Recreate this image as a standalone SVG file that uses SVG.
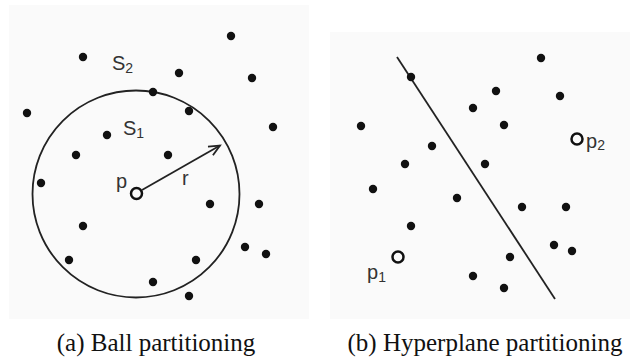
<svg xmlns="http://www.w3.org/2000/svg" width="635" height="362" viewBox="0 0 635 362">
<defs>
<style>
.panel{fill:#fafafa;stroke:none}
.dot{fill:#111}
.pt{fill:none;stroke:#111;stroke-width:2.5}
.ln{fill:none;stroke:#222;stroke-width:1.8}
.lbl{font-family:"Liberation Sans",Arial,sans-serif;font-size:20px;fill:#333}
.sub{font-size:14px}
.cap{font-family:"Liberation Serif","Times New Roman",serif;font-size:25px;fill:#111;text-anchor:middle}
</style>
<marker id="arr" markerWidth="14" markerHeight="12" refX="12" refY="6" orient="auto" markerUnits="userSpaceOnUse">
<path d="M1,1 L12,6 L1,11" fill="none" stroke="#222" stroke-width="1.8"/>
</marker>
</defs>
<rect width="635" height="362" fill="#ffffff"/>

<g id="panel-a">
<rect class="panel" x="9" y="5" width="300" height="314"/>
<g id="ball">
<circle class="ln" cx="136" cy="194" r="103.5"/>
</g>
<g id="dots-a">
<circle class="dot" cx="231" cy="36" r="4.2"/>
<circle class="dot" cx="83" cy="57" r="4.2"/>
<circle class="dot" cx="179" cy="73" r="4.2"/>
<circle class="dot" cx="252" cy="78" r="4.2"/>
<circle class="dot" cx="153" cy="92" r="4.2"/>
<circle class="dot" cx="27" cy="113" r="4.2"/>
<circle class="dot" cx="189" cy="111" r="4.2"/>
<circle class="dot" cx="273" cy="127" r="4.2"/>
<circle class="dot" cx="107" cy="135" r="4.2"/>
<circle class="dot" cx="76" cy="155" r="4.2"/>
<circle class="dot" cx="168" cy="155" r="4.2"/>
<circle class="dot" cx="41" cy="183" r="4.2"/>
<circle class="dot" cx="210" cy="204" r="4.2"/>
<circle class="dot" cx="259" cy="204" r="4.2"/>
<circle class="dot" cx="83" cy="226" r="4.2"/>
<circle class="dot" cx="245" cy="247" r="4.2"/>
<circle class="dot" cx="266" cy="254" r="4.2"/>
<circle class="dot" cx="69" cy="260" r="4.2"/>
<circle class="dot" cx="196" cy="260" r="4.2"/>
<circle class="dot" cx="153" cy="282" r="4.2"/>
<circle class="dot" cx="189" cy="296" r="4.2"/>
</g>
<g id="p">
<circle class="pt" cx="136.5" cy="193.5" r="5.5"/>
<text class="lbl" x="116" y="188">p</text>
</g>
<g id="connectors-a">
<line class="ln" x1="142" y1="190" x2="220" y2="145.5" marker-end="url(#arr)"/>
</g>
<text class="lbl" x="182" y="185">r</text>
<text class="lbl" x="112" y="70">S<tspan class="sub" dy="3">2</tspan></text>
<text class="lbl" x="123" y="135">S<tspan class="sub" dy="3">1</tspan></text>
</g>

<g id="panel-b">
<rect class="panel" x="330" y="32" width="300" height="287"/>
<g id="connectors-b">
<line class="ln" x1="397" y1="57" x2="555" y2="299"/>
</g>
<g id="dots-b">
<circle class="dot" cx="541" cy="58" r="4.2"/>
<circle class="dot" cx="411" cy="77" r="4.2"/>
<circle class="dot" cx="496" cy="91" r="4.2"/>
<circle class="dot" cx="560" cy="96" r="4.2"/>
<circle class="dot" cx="473" cy="108" r="4.2"/>
<circle class="dot" cx="361" cy="126" r="4.2"/>
<circle class="dot" cx="504" cy="125" r="4.2"/>
<circle class="dot" cx="432" cy="146" r="4.2"/>
<circle class="dot" cx="405" cy="164" r="4.2"/>
<circle class="dot" cx="485" cy="164" r="4.2"/>
<circle class="dot" cx="373" cy="189" r="4.2"/>
<circle class="dot" cx="457" cy="198" r="4.2"/>
<circle class="dot" cx="522" cy="207" r="4.2"/>
<circle class="dot" cx="566" cy="207" r="4.2"/>
<circle class="dot" cx="411" cy="226" r="4.2"/>
<circle class="dot" cx="554" cy="245" r="4.2"/>
<circle class="dot" cx="572" cy="251" r="4.2"/>
<circle class="dot" cx="510" cy="257" r="4.2"/>
<circle class="dot" cx="473" cy="276" r="4.2"/>
<circle class="dot" cx="504" cy="288" r="4.2"/>
</g>
<g id="p2">
<circle class="pt" cx="577" cy="139" r="5.5"/>
<text class="lbl" x="586" y="148">p<tspan class="sub" dy="2">2</tspan></text>
</g>
<g id="p1">
<circle class="pt" cx="398" cy="257" r="5.5"/>
<text class="lbl" x="367" y="279">p<tspan class="sub" dy="3">1</tspan></text>
</g>
</g>

<text class="cap" x="156" y="351">(a) Ball partitioning</text>
<text class="cap" x="485" y="351">(b) Hyperplane partitioning</text>
</svg>
